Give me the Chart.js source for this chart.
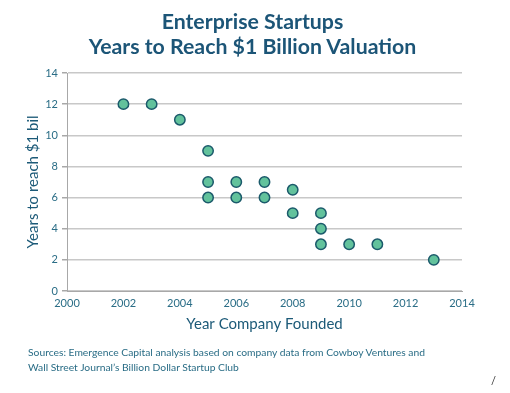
<!DOCTYPE html>
<html>
<head>
<meta charset="utf-8">
<script src="https://cdn.jsdelivr.net/npm/chart.js@4"></script>
<style>
    body { margin: 0; background: #fff; font-family: Lato, "Open Sans", sans-serif; }
    #wrap { position: relative; width: 510px; height: 393px; }
    #title {
        position: absolute; left: 0; top: 9px; width: 505px; text-align: center;
        color: #1c5577; font-weight: bold; font-size: 21.3px; line-height: 25px;
    }
    #sources {
        position: absolute; left: 28px; top: 345px; color: #2a6d86;
        font-size: 10.3px; line-height: 14.5px;
    }
    #mark { position: absolute; left: 491px; top: 374px; font-size: 11px; color: #333; }
    canvas { position: absolute; left: 0; top: 0; }
</style>
</head>
<body>
<div id="wrap">
    <canvas id="chart" width="510" height="393"></canvas>
    <div id="title">Enterprise Startups<br>Years to Reach $1 Billion Valuation</div>
    <div id="sources">Sources: Emergence Capital analysis based on company data from Cowboy Ventures and<br>Wall Street Journal’s Billion Dollar Startup Club</div>
    <div id="mark">/</div>
</div>
<script>
// Data
const foundedYears = [2002, 2003, 2004, 2005, 2005, 2005, 2006, 2006, 2007, 2007, 2008, 2008, 2009, 2009, 2009, 2010, 2011, 2013];
const yearsToBillion = [12, 12, 11, 9, 7, 6, 7, 6, 7, 6, 6.5, 5, 5, 4, 3, 3, 3, 2];
const xRange = [2000, 2014];
const yRange = [0, 14];

const tickColor = '#2a6d86';
const gridColor = '#c8c8c8';

const points = foundedYears.map((x, i) => ({ x: x, y: yearsToBillion[i] }));

new Chart(document.getElementById('chart'), {
    type: 'scatter',
    data: {
        datasets: [{
            data: points,
            backgroundColor: '#62c29c',
            borderColor: '#1b5a6b',
            borderWidth: 1.5,
            pointRadius: 5.2,
            pointHoverRadius: 5.2
        }]
    },
    options: {
        responsive: false,
        animation: false,
        layout: { padding: { left: 20, right: 48, top: 73, bottom: 56 } },
        plugins: { legend: { display: false }, tooltip: { enabled: false } },
        scales: {
            x: {
                type: 'linear',
                min: xRange[0], max: xRange[1],
                ticks: {
                    stepSize: 2, color: tickColor, padding: 2,
                    font: { family: 'Lato', size: 11 },
                    callback: v => String(v)
                },
                grid: { display: false, drawOnChartArea: false, drawTicks: true, tickLength: 4, color: '#a8a8a8' },
                border: { color: '#a8a8a8', width: 1 },
                title: {
                    display: true, text: 'Year Company Founded', color: '#1c5a78',
                    font: { family: 'Lato', size: 15 }, padding: { top: 4 }
                },
                afterFit: s => { s.height = 46; }
            },
            y: {
                min: yRange[0], max: yRange[1],
                ticks: {
                    stepSize: 2, color: tickColor, padding: 4,
                    font: { family: 'Lato', size: 11 }
                },
                grid: { color: gridColor, lineWidth: 1.5, tickLength: 5, tickColor: '#a8a8a8' },
                border: { color: '#a8a8a8', width: 1 },
                title: {
                    display: true, text: 'Years to reach $1 bil', color: '#1c5a78',
                    font: { family: 'Lato', size: 15 }, padding: { bottom: 0 }
                },
                afterFit: s => { s.width = 47; }
            }
        }
    }
});
</script>
</body>
</html>
